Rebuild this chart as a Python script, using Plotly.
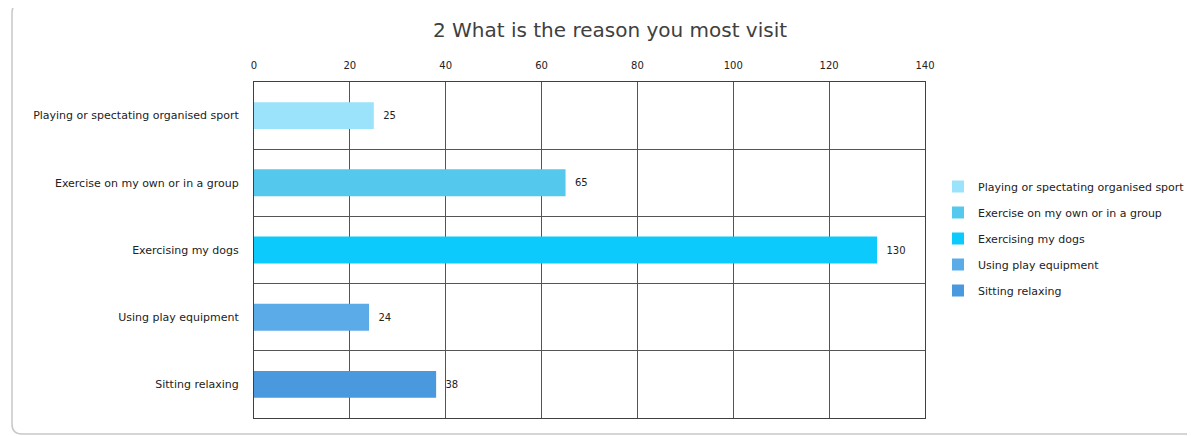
import plotly.graph_objects as go

categories = [
    "Playing or spectating organised sport",
    "Exercise on my own or in a group",
    "Exercising my dogs",
    "Using play equipment",
    "Sitting relaxing",
]
values = [25, 65, 130, 24, 38]
colors = ["#9BE3FA", "#55C8EE", "#0CCBFC", "#5AABE8", "#4A98DD"]
x_ticks = [0, 20, 40, 60, 80, 100, 120, 140]

W, H = 1195, 436
OFF = 8  # page offset of the figure
L, R, T, B = 254 - OFF, 925 - OFF, 82 - OFF, 418 - OFF
pw, ph = R - L, B - T

def px(x):
    return (x - OFF - L) / pw

def py(y):
    return (B - (y - OFF)) / ph

font = "DejaVu Sans"

fig = go.Figure()
for i, (cat, val, col) in enumerate(zip(categories, values, colors)):
    fig.add_trace(go.Bar(
        x=[val], y=[i], orientation="h", name=cat,
        marker=dict(color=col, line=dict(width=0)),
        width=0.4,
        text=[val], texttemplate="\u00a0\u00a0%{x}", textposition="outside",
        textfont=dict(family=font, size=10, color="#222"),
        cliponaxis=False, legendgroup=f"g{i}",
    ))

# rounded frame
x0, x1, y0, y1 = px(12), px(1210), py(3), py(434)
rx, ry = 10 / pw, 10 / ph
path = (f"M {x0+rx},{y0} L {x1-rx},{y0} Q {x1},{y0} {x1},{y0-ry} "
        f"L {x1},{y1+ry} Q {x1},{y1} {x1-rx},{y1} L {x0+rx},{y1} "
        f"Q {x0},{y1} {x0},{y1+ry} L {x0},{y0-ry} Q {x0},{y0} {x0+rx},{y0} Z")

fig.update_layout(
    width=W, height=H,
    margin=dict(l=L, r=W - R, t=T, b=H - B),
    paper_bgcolor="white", plot_bgcolor="white",
    barmode="overlay",
    showlegend=True,
    title=dict(text="2 What is the reason you most visit",
               x=(610 - OFF) / W, xanchor="center", y=1 - (30 - OFF) / H, yanchor="middle",
               font=dict(family=font, size=20, color="#404040")),
    legend=dict(x=px(938), xanchor="left", y=py(172), yanchor="top",
                font=dict(family=font, size=11, color="#222"),
                tracegroupgap=7, itemwidth=30, bgcolor="rgba(0,0,0,0)"),
    xaxis=dict(side="top", range=[0, 140], tickvals=x_ticks,
               showgrid=True, gridcolor="#555", gridwidth=1,
               showline=True, mirror=True, linecolor="#404040", linewidth=1,
               zeroline=False, ticks="", ticklabelstandoff=8,
               tickfont=dict(family=font, size=10, color="#222"), fixedrange=True),
    yaxis=dict(range=[4.5, -0.5], tickvals=list(range(len(categories))),
               ticktext=categories, showgrid=False,
               minor=dict(tickmode="linear", tick0=0.5, dtick=1, showgrid=True,
                          gridcolor="#555", gridwidth=1, ticks=""),
               showline=True, mirror=True, linecolor="#404040", linewidth=1,
               zeroline=False, ticks="", ticklabelstandoff=12,
               tickfont=dict(family=font, size=11, color="#222"), fixedrange=True),
    shapes=[dict(type="path", path=path, xref="paper", yref="paper",
                 line=dict(color="#c8c8c8", width=1.5), fillcolor="rgba(0,0,0,0)",
                 layer="below")],
)

fig.write_html("out.html")
